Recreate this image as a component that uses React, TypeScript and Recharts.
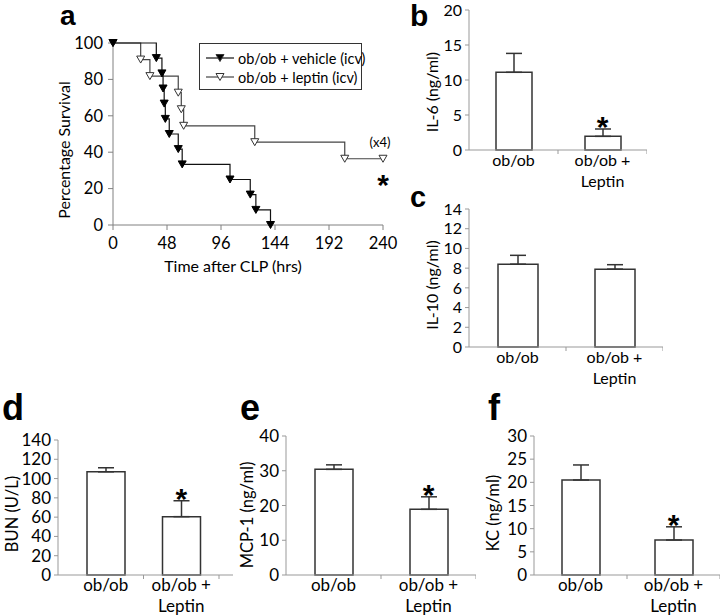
import React from 'react';
import { LineChart, Line, XAxis, YAxis, BarChart, Bar, ErrorBar, ReferenceDot } from 'recharts';

const FONT = 'Lato, "Open Sans", sans-serif';
const BOLD = '"Liberation Sans", Arial, sans-serif';

// panel a: survival after CLP
const vehicleHrs = [0, 38.5, 43.5, 44.5, 45.5, 46.5, 50, 58, 61.5, 104, 122, 127, 140];
const vehicleSurv = [100, 91.7, 83.3, 75, 66.7, 58.3, 50, 41.7, 33.3, 25, 16.7, 8.3, 0];
const leptinHrs = [0, 24.6, 32.8, 58, 60.7, 62.8, 126, 206, 240];
const leptinSurv = [100, 90.9, 81.8, 72.7, 63.6, 54.5, 45.5, 36.4, 36.4];
const hourTicks = [0, 48, 96, 144, 192, 240];
const survTicks = [0, 20, 40, 60, 80, 100];

// panels b-f
const groups = ['ob/ob', 'ob/ob + Leptin'];
const il6 = [11.1, 1.95];
const il6Err = [2.7, 1.05];
const il10 = [8.4, 7.9];
const il10Err = [0.9, 0.45];
const bun = [107, 60.5];
const bunErr = [4.2, 16.5];
const mcp1 = [30.4, 18.9];
const mcp1Err = [1.3, 3.6];
const kc = [20.5, 7.55];
const kcErr = [3.25, 2.85];

const vehicleData = vehicleHrs.map((t, i) => ({ t, s: vehicleSurv[i] }));
const leptinData = leptinHrs.map((t, i) => ({ t, s: leptinSurv[i] }));

const tri = (cx: number, cy: number) => `M${cx - 4},${cy - 3.5}L${cx + 4},${cy - 3.5}L${cx},${cy + 3.5}Z`;

const FilledTri = (p: any) =>
  p.cx == null ? <g key={p.index} /> : <path key={p.index} d={tri(p.cx, p.cy)} fill="#000" stroke="#000" />;
const OpenTri = (p: any) =>
  p.cx == null ? <g key={p.index} /> : <path key={p.index} d={tri(p.cx, p.cy)} fill="#fff" stroke="#333" />;

const Star = (p: any) => (
  <text x={p.cx} y={p.cy + 8} textAnchor="middle" fontFamily={BOLD} fontWeight="bold" fontSize={30} fill="#000">
    *
  </text>
);

const CatTick = (p: any) => {
  const { x, y, payload, fontSize, half } = p;
  const parts = String(payload.value).split(' + ');
  const lines = parts.length > 1 ? [parts[0] + ' +', parts[1]] : parts;
  const off = payload.offset || half;
  return (
    <g>
      <line x1={x + off} x2={x + off} y1={y} y2={y + 4} stroke="#999" />
      <text x={x} y={y + 16} textAnchor="middle" fontFamily={FONT} fontSize={fontSize} fill="#000">
        {lines.map((l: string, i: number) => (
          <tspan key={i} x={x} dy={i === 0 ? 0 : 21}>
            {l}
          </tspan>
        ))}
      </text>
    </g>
  );
};

type PanelProps = {
  values: number[];
  errs: number[];
  max: number;
  step: number;
  box: [number, number, number, number];
  barSize: number;
  font: number;
  star?: boolean;
  pad?: [number, number];
};

const BarPanel = ({ values, errs, max, step, box, barSize, font, star = true, pad = [0, 0] }: PanelProps) => {
  const [pl, pt, pr, pb] = box;
  const left = pl - 50;
  const top = pt - 10;
  const width = pr - left;
  const height = pb - top + 42;
  const data = groups.map((g, i) => ({ g, v: values[i], e: [0, errs[i]] }));
  const ticks: number[] = [];
  for (let v = 0; v <= max; v += step) ticks.push(v);
  const half = (pr - pl - pad[0] - pad[1]) / 4;
  return (
    <div style={{ position: 'absolute', left, top }}>
      <BarChart width={width} height={height} data={data} margin={{ top: 10, right: 0, left: 0, bottom: 0 }}>
        <XAxis
          dataKey="g"
          height={42}
          tickLine={false}
          tickSize={0}
          tickMargin={0}
          interval={0}
          padding={{ left: pad[0], right: pad[1] }}
          axisLine={{ stroke: '#999' }}
          tick={<CatTick fontSize={font} half={half} />}
        />
        <YAxis
          type="number"
          domain={[0, max]}
          ticks={ticks}
          interval={0}
          width={50}
          tickSize={4}
          tickMargin={3}
          axisLine={{ stroke: '#999' }}
          tickLine={{ stroke: '#999' }}
          tick={{ fontSize: font, fill: '#000', fontFamily: FONT }}
        />
        <Bar dataKey="v" barSize={barSize} fill="#fff" stroke="#333" strokeWidth={1.5} isAnimationActive={false}>
          <ErrorBar dataKey="e" width={8} stroke="#333" strokeWidth={1.5} isAnimationActive={false} />
        </Bar>
        {star && <ReferenceDot x={groups[1]} y={values[1] + errs[1]} r={0} shape={Star} />}
      </BarChart>
    </div>
  );
};

const Txt = ({ x, y, size, children, bold, rot, anchor = 'middle' }: any) => (
  <text
    transform={`translate(${x},${y})${rot ? ' rotate(-90)' : ''}`}
    textAnchor={anchor}
    dominantBaseline={rot ? 'central' : 'auto'}
    fontFamily={bold ? BOLD : FONT}
    fontWeight={bold ? 'bold' : 'normal'}
    fontSize={size}
    fill="#000"
  >
    {children}
  </text>
);

const App = () => (
  <div style={{ position: 'absolute', left: 0, top: 0, width: 720, height: 616, background: '#fff' }}>
    <div style={{ position: 'absolute', left: 0, top: 0 }}>
      <LineChart width={400} height={290} margin={{ top: 43, right: 17, left: 73, bottom: 25 }}>
        <XAxis
          type="number"
          dataKey="t"
          domain={[0, 240]}
          ticks={hourTicks}
          interval={0}
          height={40}
          tickSize={5}
          tickMargin={7}
          stroke="#808080"
          tick={{ fontSize: 16.5, fill: '#000', fontFamily: FONT }}
        />
        <YAxis
          type="number"
          domain={[0, 100]}
          ticks={survTicks}
          interval={0}
          width={40}
          tickSize={5}
          tickMargin={5}
          stroke="#808080"
          tick={{ fontSize: 16.5, fill: '#000', fontFamily: FONT }}
        />
        <Line data={leptinData} dataKey="s" type="stepAfter" stroke="#444" strokeWidth={1.2} dot={OpenTri} isAnimationActive={false} />
        <Line data={vehicleData} dataKey="s" type="stepAfter" stroke="#111" strokeWidth={1.2} dot={FilledTri} isAnimationActive={false} />
      </LineChart>
    </div>

    <BarPanel values={il6} errs={il6Err} max={20} step={5} box={[469, 10, 647, 150]} barSize={36} font={16} />
    <BarPanel values={il10} errs={il10Err} max={14} step={2} box={[469, 209, 663, 347]} barSize={40} font={16} star={false} />
    <BarPanel values={bun} errs={bunErr} max={140} step={20} box={[58, 440, 233, 575]} barSize={38} font={17} pad={[10, 14]} />
    <BarPanel values={mcp1} errs={mcp1Err} max={40} step={10} box={[286, 436, 476, 575]} barSize={38} font={17} />
    <BarPanel values={kc} errs={kcErr} max={30} step={5} box={[534, 436, 720, 575]} barSize={38} font={17} />

    {/* legend for panel a */}
    <div
      style={{
        position: 'absolute',
        left: 199,
        top: 43,
        width: 163,
        height: 47,
        border: '1px solid #333',
        boxSizing: 'border-box',
        fontFamily: FONT,
        fontSize: 14.5,
      }}
    >
      {[
        { name: 'ob/ob + vehicle (icv)', fill: '#000', line: '#111' },
        { name: 'ob/ob + leptin (icv)', fill: '#fff', line: '#444' },
      ].map((r, i) => (
        <div key={i} style={{ position: 'absolute', left: 6, top: 5 + i * 19, height: 18, display: 'flex', alignItems: 'center' }}>
          <svg width={28} height={10}>
            <line x1={0} x2={28} y1={5} y2={5} stroke={r.line} strokeWidth={1.2} />
            <path d={tri(14, 5)} fill={r.fill} stroke="#333" />
          </svg>
          <span style={{ marginLeft: 4, whiteSpace: 'nowrap' }}>{r.name}</span>
        </div>
      ))}
    </div>

    <svg width={720} height={616} style={{ position: 'absolute', left: 0, top: 0, pointerEvents: 'none' }}>
      <Txt x={60} y={25} size={28} bold anchor="start">a</Txt>
      <Txt x={410} y={26} size={30} bold anchor="start">b</Txt>
      <Txt x={410} y={207} size={29} bold anchor="start">c</Txt>
      <Txt x={2} y={420} size={36} bold anchor="start">d</Txt>
      <Txt x={240} y={420} size={36} bold anchor="start">e</Txt>
      <Txt x={488} y={420} size={36} bold anchor="start">f</Txt>

      <Txt x={63} y={150} size={16} rot>Percentage Survival</Txt>
      <Txt x={233} y={272} size={16}>Time after CLP (hrs)</Txt>
      <Txt x={380} y={147} size={13}>(x4)</Txt>
      <Txt x={383} y={195} size={30} bold>*</Txt>

      <Txt x={431} y={92} size={16} rot>IL-6 (ng/ml)</Txt>
      <Txt x={431} y={285} size={16} rot>IL-10 (ng/ml)</Txt>
      <Txt x={12} y={514} size={16.5} rot>BUN (U/L)</Txt>
      <Txt x={247} y={515} size={16.5} rot>MCP-1 (ng/ml)</Txt>
      <Txt x={493} y={513} size={16.5} rot>KC (ng/ml)</Txt>
    </svg>
  </div>
);

export default App;
